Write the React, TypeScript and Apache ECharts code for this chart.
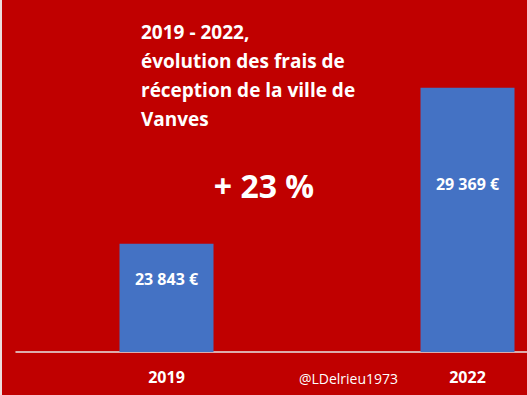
import React, { useEffect, useRef } from "react";
import * as echarts from "echarts";

const categories = ["2019", "2022"];
const values = [23843, 29369];
const valueLabels = ["23 843 €", "29 369 €"];
const titleLines = ["2019 - 2022,", "évolution des frais de", "réception de la ville de", "Vanves"];
const changeText = "+ 23 %";
const credit = "@LDelrieu1973";

const FONT = "'Open Sans', 'Noto Sans', sans-serif";

export default function App() {
  const ref = useRef<HTMLDivElement>(null);
  useEffect(() => {
    if (!ref.current) return;
    const chart = echarts.init(ref.current, null, { renderer: "svg" });
    const labelDistances = [27, 88];
    chart.setOption({
      animation: false,
      backgroundColor: "#C00000",
      textStyle: { fontFamily: FONT },
      title: {
        text: titleLines.join("\n"),
        left: 141,
        top: 17,
        padding: 0,
        textStyle: {
          color: "#ffffff",
          fontFamily: FONT,
          fontWeight: "bold",
          fontSize: 19,
          lineHeight: 29,
        },
      },
      grid: {
        left: 16,
        top: 70,
        width: 602,
        bottom: 43,
        containLabel: false,
        outerBoundsMode: "none",
      },
      xAxis: {
        type: "category",
        data: categories,
        axisLine: { show: true, lineStyle: { color: "#e6e6e6", width: 1.5 } },
        axisTick: { show: false },
        axisLabel: {
          color: "#ffffff",
          fontFamily: FONT,
          fontWeight: "bold",
          fontSize: 16,
          margin: 17,
        },
      },
      yAxis: {
        type: "value",
        min: 20000,
        max: 30000,
        show: false,
        splitLine: { show: false },
      },
      series: [
        {
          type: "bar",
          barWidth: 94,
          data: values.map((v, i) => ({
            value: v,
            label: {
              show: true,
              position: "insideTop",
              distance: labelDistances[i],
              formatter: valueLabels[i],
              color: "#ffffff",
              fontFamily: FONT,
              fontWeight: "bold",
              fontSize: 16,
            },
          })),
          itemStyle: { color: "#4472C4" },
        },
      ],
      graphic: [
        {
          type: "rect",
          left: 0,
          top: 0,
          shape: { width: 2, height: 395 },
          style: { fill: "#ecdede" },
        },
        {
          type: "text",
          x: 264,
          y: 185,
          style: {
            text: changeText,
            fill: "#ffffff",
            font: `bold 32px ${FONT}`,
            textAlign: "center",
            textVerticalAlign: "middle",
          },
        },
        {
          type: "text",
          x: 348.5,
          y: 378,
          style: {
            text: credit,
            fill: "#ffffff",
            font: `14px ${FONT}`,
            textAlign: "center",
            textVerticalAlign: "middle",
          },
        },
      ],
    });
    return () => chart.dispose();
  }, []);
  return (
    <div
      ref={ref}
      style={{ position: "fixed", left: 0, top: 0, width: 527, height: 395 }}
    />
  );
}
